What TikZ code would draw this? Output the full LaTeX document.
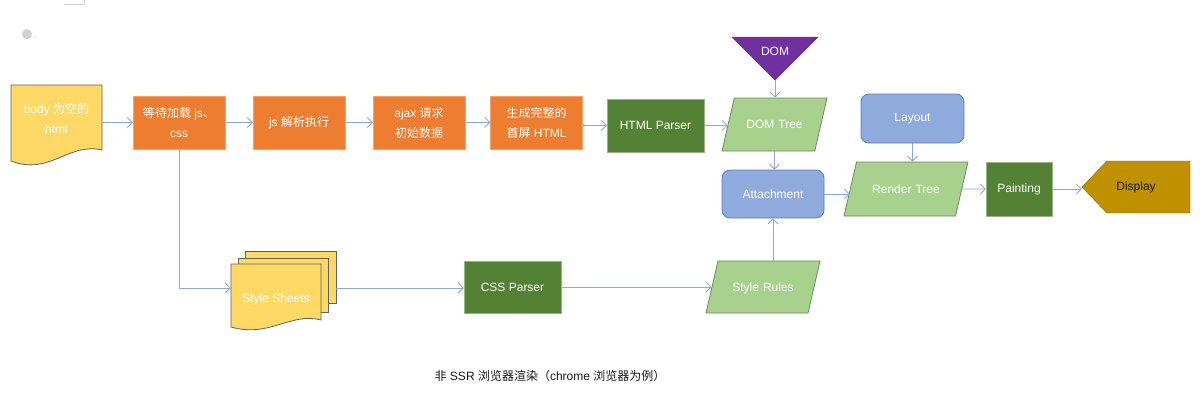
\documentclass[tikz,border=0pt]{standalone}
\usepackage{fontspec}
\setmainfont{Liberation Sans}
\newfontfamily\cjk{Noto Sans CJK SC}
\usetikzlibrary{arrows.meta,shapes.geometric}
\newcommand{\zh}[1]{{\cjk #1}}
\definecolor{docyellow}{HTML}{FFD966}
\definecolor{procorange}{HTML}{ED7D31}
\definecolor{parsegreen}{HTML}{548235}
\definecolor{treegreen}{HTML}{A9D18E}
\definecolor{treeedge}{HTML}{6B8A5E}
\definecolor{boxblue}{HTML}{8FAADC}
\definecolor{boxblueedge}{HTML}{5B7DC0}
\definecolor{dompurple}{HTML}{7030A0}
\definecolor{showgold}{HTML}{BF9000}
\definecolor{arrowblue}{HTML}{8EA9D6}
\begin{document}
\begin{tikzpicture}[x=1pt,y=-1pt,
    every node/.style={font=\fontsize{12}{20}\selectfont, align=center, inner sep=0pt},
    arr/.style={draw=arrowblue, line width=0.8pt, -{Straight Barb[length=5pt,width=10pt]}},
    proc/.style={rectangle, fill=procorange, draw=procorange!70!white, text=white,
        minimum width=92pt, minimum height=53pt},
    parser/.style={rectangle, fill=parsegreen, draw=parsegreen!60!white, text=white,
        minimum height=53pt},
    tree/.style={trapezium, trapezium left angle=77, trapezium right angle=103,
        fill=treegreen, draw=treeedge, line width=0.8pt, text=white,
        text height=9.8pt, text depth=1.2pt, inner xsep=0pt},
    stage/.style={rectangle, rounded corners=8pt, fill=boxblue, draw=boxblueedge,
        line width=0.8pt, text=white, minimum width=102pt, minimum height=48pt},
    docedge/.style={fill=docyellow, draw=gray!75!black, line width=0.8pt}]
    \useasboundingbox[fill=white] (0,0) rectangle (1200,407);
    \draw[gray!35] (64,4) -- (84,4) -- (84,0);
    \fill[gray!35] (27,34) circle (5pt);
    \fill[gray!30] (35,37) circle (1pt);

    \draw[docedge] (11,85) -- (102,85) -- (102,150) .. controls (68,142) and (50,176) .. (11,161) -- cycle;
    \node[text=white, minimum width=91pt, minimum height=66pt] (body) at (56.5,118) {body \zh{为空的}\\html};

    \node[proc] (wait) at (179,122.5) {\zh{等待加载} js\zh{、}\\css};
    \node[proc] (jsrun) at (299,122.5) {js \zh{解析执行}};
    \node[proc] (ajax) at (419,122.5) {ajax \zh{请求}\\\zh{初始数据}};
    \node[proc] (firstpage) at (536.5,122.5) {\zh{生成完整的}\\\zh{首屏} HTML};
    \node[parser, minimum width=97pt] (htmlparser) at (655.5,125.5) {HTML Parser};

    \coordinate (domtip) at (775,80);
    \draw[fill=dompurple, draw=dompurple!80!black] (732,37) -- (818,37) -- (domtip) -- cycle;
    \node[text=white] (dom) at (775,51) {DOM};
    \node[tree, text width=80.5pt, inner ysep=21pt] (domtree) at (774.5,124.5) {DOM Tree};
    \node[stage] (attach) at (773,194) {Attachment};
    \node[stage, minimum width=103pt, minimum height=49pt] (layout) at (912.5,118.5) {Layout};
    \node[tree, text width=99pt, inner ysep=21.5pt] (render) at (906,189) {Render Tree};
    \node[parser, minimum width=66pt, minimum height=54pt] (paint) at (1019,189) {Painting};
    \draw[fill=showgold, draw=showgold!70!black] (1082,187) -- (1107,161) -- (1190,161) -- (1190,213) -- (1107,213) -- cycle;
    \node[text=black!85!showgold, minimum width=108pt, minimum height=52pt] (display) at (1136,187) {Display};

    \draw[docedge] (245,251) rectangle (336,303);
    \draw[docedge] (238,258) rectangle (328,312);
    \draw[docedge] (231,264) -- (321,264) -- (321,320) .. controls (290,312) and (270,338) .. (231,327) -- cycle;
    \node[minimum width=105pt, minimum height=52pt] (sheets) at (283.5,288) {};
    \node[text=white] (sheetstext) at (276,299) {Style Sheets};
    \node[parser, minimum width=97pt, minimum height=52pt] (cssparser) at (512.5,287) {CSS Parser};
    \node[tree, text width=90pt, inner ysep=20.5pt] (rules) at (763,287) {Style Rules};

    \draw[arr] (body.east |- wait.west) -- (wait.west);
    \draw[arr] (wait) -- (jsrun);
    \draw[arr] (jsrun) -- (ajax);
    \draw[arr] (ajax) -- (firstpage);
    \draw[arr] (firstpage.east |- htmlparser.west) -- (htmlparser.west);
    \draw[arr] (htmlparser.east) -- (htmlparser.east -| domtree.west);
    \draw[arr] (domtip) -- (domtip |- domtree.north);
    \draw[arr] (domtree.south) -- (domtree.south |- attach.north);
    \draw[arr] (wait.south) |- (sheets.west);
    \draw[arr] (sheets.east) -- (sheets.east -| cssparser.west);
    \draw[arr] (cssparser.east) -- (cssparser.east -| rules.west);
    \draw[arr] (rules.north -| attach.south) -- (attach.south);
    \draw[arr] (attach.east) -- (attach.east -| render.west);
    \draw[arr] (layout.south) -- (layout.south |- render.north);
    \draw[arr] (render.east) -- (paint.west);
    \draw[arr] (paint.east) -- (paint.east -| display.west);

    \node[text=black!90] (caption) at (550,376) {\zh{非} SSR \zh{浏览器渲染（}chrome \zh{浏览器为例）}};
\end{tikzpicture}
\end{document}
